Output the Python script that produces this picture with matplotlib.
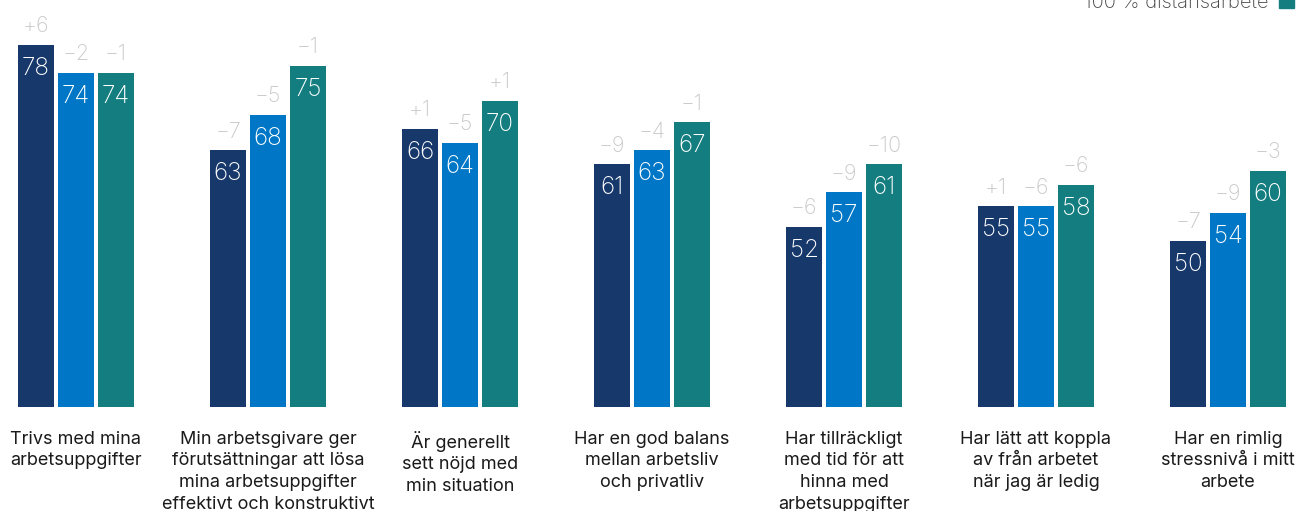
import numpy as np
import matplotlib
matplotlib.use('Agg')
import matplotlib.pyplot as plt
from matplotlib.patches import Rectangle

plt.rcParams['font.family'] = ['Inter', 'DejaVu Sans']

categories = [
    'Trivs med mina\narbetsuppgifter',
    'Min arbetsgivare ger\nförutsättningar att lösa\nmina arbetsuppgifter\neffektivt och konstruktivt',
    'Är generellt\nsett nöjd med\nmin situation',
    'Har en god balans\nmellan arbetsliv\noch privatliv',
    'Har tillräckligt\nmed tid för att\nhinna med\narbetsuppgifter',
    'Har lätt att koppla\nav från arbetet\nnär jag är ledig',
    'Har en rimlig\nstressnivå i mitt\narbete',
]
series_names = ['0 % distansarbete', '1-99 % distansarbete', '100 % distansarbete']
values = [
    [78, 63, 66, 61, 52, 55, 50],
    [74, 68, 64, 63, 57, 55, 54],
    [74, 75, 70, 67, 61, 58, 60],
]
changes = [
    [+6, -7, +1, -9, -6, +1, -7],
    [-2, -5, -5, -4, -9, -6, -9],
    [-1, -1, +1, -1, -10, -6, -3],
]
colors = ['#17386b', '#0077c6', '#137d7f']
change_color = '#c8c8c8'
text_color = '#1a1a1a'

W, H = 1298, 511
fig = plt.figure(figsize=(W / 100, H / 100), dpi=100)
ax = fig.add_axes([0, 1 - 407 / H, 1, 407 / H])

x = np.arange(len(categories))
bar_w = 36 / 192
step = 40 / 192

for k, (vals, chg) in enumerate(zip(values, changes)):
    xs = x + (k - 1) * step
    ax.bar(xs, vals, width=bar_w, color=colors[k], linewidth=0)
    for xi, v, c in zip(xs, vals, chg):
        ax.annotate(str(v), (xi, v), xytext=(0, -21.5), textcoords='offset points',
                    ha='center', va='baseline', color='white', fontsize=17.5,
                    fontweight='light')
        lbl = f'+{c}' if c > 0 else f'\u2212{abs(c)}'
        ax.annotate(lbl, (xi, v), xytext=(0, 9), textcoords='offset points',
                    ha='center', va='baseline', color=change_color, fontsize=15.5,
                    fontweight='light')

ax.set_xlim(-76 / 192, (W - 76) / 192)
ax.set_ylim(78 - 362 / 7, 78 + 45 / 7)
ax.axis('off')

for xi, cat in zip(x, categories):
    ax.annotate(cat, (xi, 0), xycoords=('data', 'axes fraction'),
                xytext=(0, -17), textcoords='offset points',
                ha='center', va='top', fontsize=13, color=text_color,
                linespacing=1.36)

# partial legend entry at the top edge
fig.text(1268 / W, 1 - 8 / H, series_names[2], ha='right', va='baseline',
         fontsize=14.5, color='#444444', fontweight='light')
fig.patches.append(Rectangle((1279 / W, 1 - 8 / H), 15 / W, 15 / H,
                             transform=fig.transFigure, color=colors[2]))

fig.savefig('out.png', dpi=100)
